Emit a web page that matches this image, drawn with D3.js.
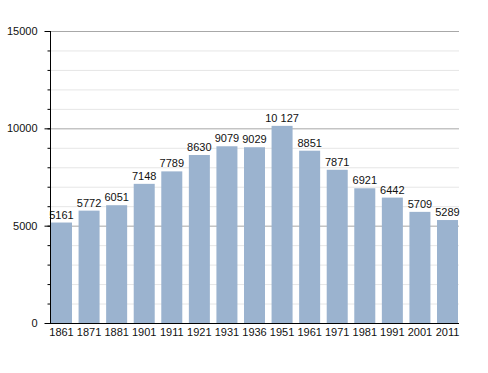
<!DOCTYPE html>
<html><head><meta charset="utf-8">
<script src="https://cdn.jsdelivr.net/npm/d3@7"></script>
<style>body{margin:0;background:#fff}svg{display:block}text{font-family:"Liberation Sans",Arial,sans-serif;font-size:11px;fill:#111}</style>
</head><body><svg id="c" width="488" height="373"></svg>
<script>
const years = ["1861","1871","1881","1901","1911","1921","1931","1936","1951","1961","1971","1981","1991","2001","2011"];
const population = [5161,5772,6051,7148,7789,8630,9079,9029,10127,8851,7871,6921,6442,5709,5289];
const labels = ["5161","5772","6051","7148","7789","8630","9079","9029","10 127","8851","7871","6921","6442","5709","5289"];
const majorTicks = [0,5000,10000,15000];
const minorTicks = d3.range(0,15001,1000);

const svg = d3.select("#c");
const L=50, R=459, T=31, B=323;
const x = d3.scaleBand().domain(years).range([51,458]).paddingInner(0.238).paddingOuter(0);
const y = d3.scaleLinear().domain([0,15000]).range([B,T]);

// minor gridlines
svg.append("g").selectAll("line").data(minorTicks.filter(d=>d%5000!==0)).join("line")
  .attr("x1",L).attr("x2",R).attr("y1",d=>y(d)+0.5).attr("y2",d=>y(d)+0.5)
  .attr("stroke","#e6e6e6").attr("stroke-width",1);
// major gridlines
svg.append("g").selectAll("line").data(majorTicks.filter(d=>d>0)).join("line")
  .attr("x1",L).attr("x2",R).attr("y1",d=>y(d)+0.5).attr("y2",d=>y(d)+0.5)
  .attr("stroke","#a8a8a8").attr("stroke-width",1);

// bars
svg.append("g").selectAll("rect").data(population).join("rect")
  .attr("x",(d,i)=>x(years[i])).attr("width",x.bandwidth())
  .attr("y",d=>y(d)).attr("height",d=>B-y(d)).attr("fill","#9bb3cf");

// value labels
svg.append("g").selectAll("text").data(population).join("text")
  .attr("x",(d,i)=>x(years[i])+x.bandwidth()/2).attr("y",d=>y(d)-4)
  .attr("text-anchor","middle").text((d,i)=>labels[i]);

// y axis minor ticks
const yMinor = d3.axisLeft(y).tickValues(minorTicks).tickSize(3).tickFormat("");
svg.append("g").attr("transform",`translate(${L+0.5},0)`).call(yMinor)
  .call(g=>g.select(".domain").remove()).selectAll("line").attr("stroke","#000");
// y axis major
const yAxis = d3.axisLeft(y).tickValues(majorTicks).tickSize(6).tickPadding(7).tickFormat(d3.format("d"));
svg.append("g").attr("transform",`translate(${L+0.5},0)`).call(yAxis)
  .call(g=>g.select(".domain").attr("d",`M0,${T}V${B}`).attr("stroke","#000"))
  .call(g=>g.selectAll("line").attr("stroke","#000"))
  .call(g=>g.selectAll("text").style("font-size","11px").attr("fill","#111"));
// x axis
const xAxis = d3.axisBottom(x).tickSize(0).tickPadding(5);
svg.append("g").attr("transform",`translate(0,${B+0.5})`).call(xAxis)
  .call(g=>g.select(".domain").attr("d",`M${L-4},0H${R}`).attr("stroke","#000"))
  .call(g=>g.selectAll("text").style("font-size","11px").attr("fill","#111"));
</script></body></html>
